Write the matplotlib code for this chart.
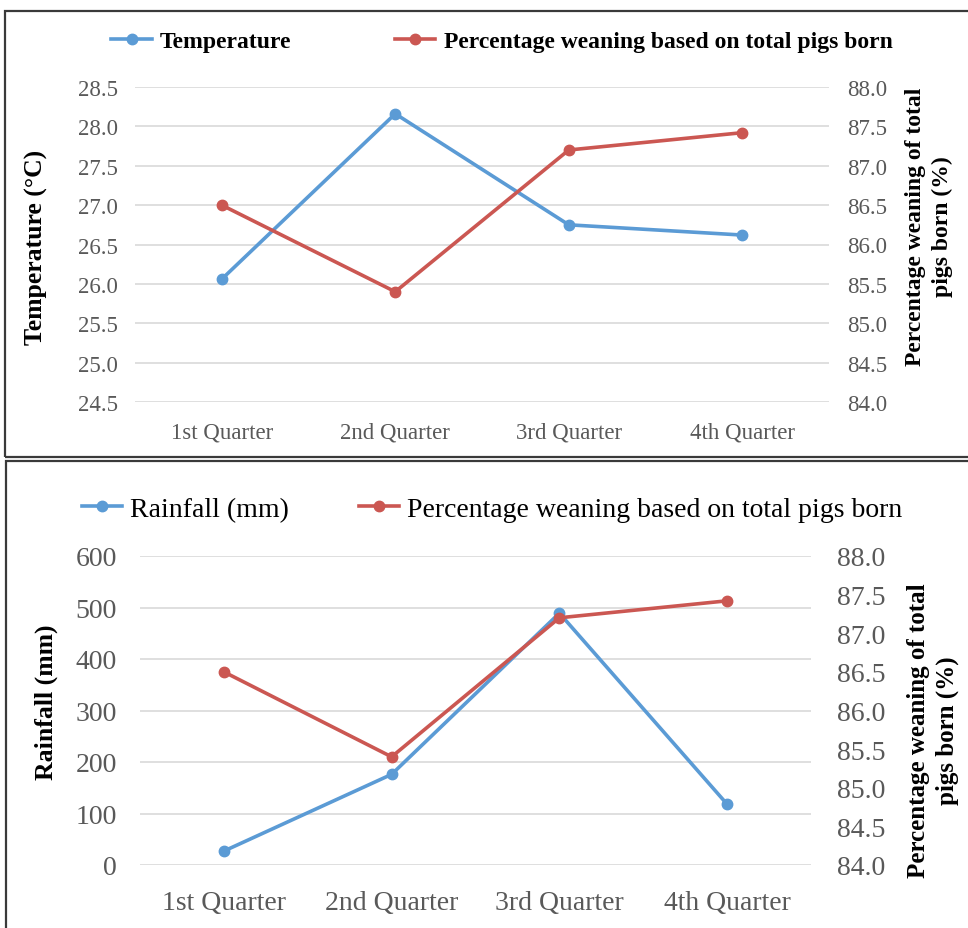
import matplotlib.pyplot as plt
from matplotlib.lines import Line2D
from matplotlib.patches import Rectangle

# Quarterly data
quarters = ['1st Quarter', '2nd Quarter', '3rd Quarter', '4th Quarter']
temperature = [26.06, 28.16, 26.75, 26.62]
rainfall = [27, 176, 489, 118]
weaning_pct = [86.50, 85.40, 87.20, 87.42]

temp_ticks = [24.5, 25.0, 25.5, 26.0, 26.5, 27.0, 27.5, 28.0, 28.5]
rain_ticks = [0, 100, 200, 300, 400, 500, 600]
pct_ticks = [84.0, 84.5, 85.0, 85.5, 86.0, 86.5, 87.0, 87.5, 88.0]

blue = '#5b9bd5'
red = '#cb5752'
grid_col = '#d9d9d9'
tick_col = '#595959'

plt.rcParams['font.family'] = ['Liberation Serif', 'DejaVu Serif']

fig = plt.figure(figsize=(9.68, 9.29), dpi=100)
W, H = 968, 929


def px_axes(x0, y0, x1, y1):
    # axes rectangle given in pixel coordinates (top-left origin)
    return fig.add_axes([x0 / W, 1 - y1 / H, (x1 - x0) / W, (y1 - y0) / H])


def style_axes(ax, ax2, yticks, yfmt, tick_size, xpad, lpad, rpad):
    x = range(len(quarters))
    ax.set_xlim(-0.5, len(quarters) - 0.5)
    ax.set_xticks(list(x))
    ax.set_xticklabels(quarters)
    ax.set_ylim(yticks[0], yticks[-1])
    ax.set_yticks(yticks)
    ax.set_yticklabels([yfmt.format(t) for t in yticks])
    ax2.set_ylim(pct_ticks[0], pct_ticks[-1])
    ax2.set_yticks(pct_ticks)
    ax2.set_yticklabels(['{:.1f}'.format(t) for t in pct_ticks])
    ax.grid(axis='y', color=grid_col, linewidth=1.2)
    ax.set_axisbelow(True)
    for a in (ax, ax2):
        for s in a.spines.values():
            s.set_visible(False)
    ax.tick_params(axis='x', length=0, pad=xpad, labelsize=tick_size, colors=tick_col)
    ax.tick_params(axis='y', length=0, pad=lpad, labelsize=tick_size, colors=tick_col)
    ax2.tick_params(axis='y', length=0, pad=rpad, labelsize=tick_size, colors=tick_col)


# ---- top panel: temperature ----
ax1 = px_axes(135, 88, 829, 403)
ax1b = ax1.twinx()
style_axes(ax1, ax1b, temp_ticks, '{:.1f}', 16.5, 14, 12, 13)
ax1.plot(range(4), temperature, color=blue, lw=2.6, marker='o', ms=7.5, zorder=3)
ax1b.plot(range(4), weaning_pct, color=red, lw=2.6, marker='o', ms=7.5, zorder=3)
fig.text(36 / W, 1 - 247 / H, 'Temperature (°C)', rotation=90, ha='center', va='center',
         fontsize=18.5, fontweight='bold')
fig.text(929 / W, 1 - 227 / H, 'Percentage weaning of total\npigs born (%)', rotation=90,
         ha='center', va='center', fontsize=17, fontweight='bold', linespacing=1.35)

handles = [Line2D([], [], color=blue, lw=2.6, marker='o', ms=7.5),
           Line2D([], [], color=red, lw=2.6, marker='o', ms=7.5)]
fig.legend(handles, ['Temperature', 'Percentage weaning based on total pigs born'],
           loc='center', bbox_to_anchor=(502 / W, 1 - 42 / H), ncol=2, frameon=False,
           prop={'size': 17, 'weight': 'bold'}, handlelength=1.7, handletextpad=0.35,
           columnspacing=4.4, numpoints=1)

# ---- bottom panel: rainfall ----
ax2 = px_axes(140, 557, 811, 866)
ax2b = ax2.twinx()
style_axes(ax2, ax2b, rain_ticks, '{:.0f}', 20, 18, 16.5, 19)
ax2.plot(range(4), rainfall, color=blue, lw=2.6, marker='o', ms=7.5, zorder=3)
ax2b.plot(range(4), weaning_pct, color=red, lw=2.6, marker='o', ms=7.5, zorder=3)
fig.text(46 / W, 1 - 702 / H, 'Rainfall (mm)', rotation=90, ha='center', va='center',
         fontsize=18.5, fontweight='bold')
fig.text(933 / W, 1 - 731 / H, 'Percentage weaning of total\npigs born (%)', rotation=90,
         ha='center', va='center', fontsize=18, fontweight='bold', linespacing=1.3)

handles = [Line2D([], [], color=blue, lw=2.6, marker='o', ms=7.5),
           Line2D([], [], color=red, lw=2.6, marker='o', ms=7.5)]
fig.legend(handles, ['Rainfall (mm)', 'Percentage weaning based on total pigs born'],
           loc='center', bbox_to_anchor=(492 / W, 1 - 510 / H), ncol=2, frameon=False,
           prop={'size': 20}, handlelength=1.45, handletextpad=0.3,
           columnspacing=2.5, numpoints=1)

# panel frames
fig.patches.append(Rectangle((5 / W, 1 - 458 / H), 1.0, 446 / H, transform=fig.transFigure,
                             fill=False, edgecolor='#3a3a3a', lw=1.6))
fig.patches.append(Rectangle((6 / W, -0.05), 1.0, 1 - 462 / H + 0.05, transform=fig.transFigure,
                             fill=False, edgecolor='#3a3a3a', lw=1.6))

fig.savefig('out.png', dpi=100)
